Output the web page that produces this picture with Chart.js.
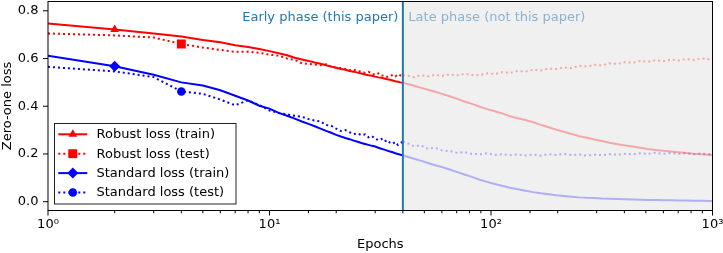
<!DOCTYPE html>
<html><head><meta charset="utf-8">
<script src="https://cdn.jsdelivr.net/npm/chart.js@4/dist/chart.umd.min.js"></script>
<style>html,body{margin:0;padding:0;background:#fff}#wrap{width:723px;height:253px;position:relative}</style>
</head><body><div id="wrap"><canvas id="c" width="723" height="253"></canvas></div>
<script>
const epochs = [1,2,3,4,5,6,7,8,9,10,11,12,13,14,15,16,17,18,19,20,21,22,23,24,25,26,27,28,29,30,31,32,33,34,35,36,37,38,39,40,
  42,45,48,52,56,60,65,70,76,82,89,96,104,113,122,132,143,155,168,182,197,213,231,250,271,293,317,343,372,403,436,472,511,553,599,648,702,760,823,891,965,1000];
const robustTrain = [0.747,0.722,0.705,0.692,0.678,0.668,0.656,0.648,0.640,0.631,0.622,0.614,0.603,0.596,0.590,0.583,0.578,0.572,0.566,0.561,0.556,0.553,0.548,0.545,0.541,0.537,0.533,0.530,0.528,0.524,0.521,0.519,0.516,0.513,0.511,0.508,0.505,0.503,0.500,0.498,
  0.493,0.486,0.478,0.469,0.461,0.452,0.442,0.432,0.420,0.410,0.398,0.388,0.379,0.369,0.358,0.350,0.342,0.333,0.322,0.312,0.302,0.293,0.284,0.274,0.268,0.261,0.254,0.247,0.241,0.236,0.231,0.226,0.221,0.217,0.213,0.210,0.207,0.204,0.201,0.199,0.197,0.196];
const robustTest = [0.705,0.697,0.688,0.661,0.646,0.636,0.628,0.629,0.624,0.616,0.612,0.600,0.594,0.580,0.577,0.575,0.572,0.576,0.566,0.562,0.560,0.556,0.551,0.553,0.548,0.545,0.540,0.544,0.536,0.532,0.538,0.528,0.530,0.523,0.527,0.531,0.525,0.534,0.529,0.531,
  0.528,0.522,0.530,0.525,0.532,0.527,0.534,0.529,0.536,0.531,0.530,0.538,0.535,0.543,0.540,0.548,0.545,0.553,0.550,0.558,0.556,0.563,0.560,0.570,0.566,0.574,0.571,0.580,0.577,0.585,0.582,0.590,0.586,0.593,0.589,0.596,0.592,0.598,0.594,0.601,0.597,0.600];
const standardTrain = [0.612,0.568,0.532,0.500,0.487,0.467,0.444,0.424,0.402,0.390,0.372,0.360,0.348,0.336,0.326,0.316,0.306,0.297,0.289,0.280,0.273,0.267,0.262,0.256,0.251,0.246,0.242,0.238,0.234,0.231,0.226,0.222,0.218,0.214,0.210,0.207,0.203,0.200,0.197,0.194,
  0.188,0.180,0.172,0.162,0.153,0.145,0.135,0.125,0.114,0.104,0.092,0.083,0.074,0.066,0.058,0.052,0.046,0.040,0.035,0.031,0.027,0.024,0.021,0.018,0.016,0.015,0.013,0.012,0.011,0.010,0.009,0.008,0.007,0.007,0.006,0.006,0.005,0.005,0.004,0.004,0.003,0.003];
const standardTest = [0.565,0.546,0.522,0.462,0.452,0.428,0.404,0.425,0.405,0.382,0.372,0.366,0.360,0.356,0.346,0.340,0.336,0.321,0.318,0.306,0.296,0.300,0.291,0.284,0.286,0.279,0.282,0.270,0.275,0.264,0.258,0.263,0.252,0.258,0.247,0.243,0.250,0.238,0.245,0.252,
  0.245,0.232,0.236,0.222,0.226,0.215,0.212,0.205,0.208,0.200,0.199,0.203,0.196,0.199,0.195,0.198,0.194,0.197,0.193,0.199,0.196,0.200,0.195,0.198,0.193,0.197,0.195,0.199,0.196,0.201,0.198,0.203,0.200,0.205,0.201,0.204,0.200,0.203,0.199,0.202,0.198,0.200];
const seriesLabels = ['Robust loss (train)','Robust loss (test)','Standard loss (train)','Standard loss (test)'];
const yTicks = [0.0, 0.2, 0.4, 0.6, 0.8];
const xTickLabels = {1:'10\u2070', 10:'10\u00b9', 100:'10\u00b2', 1000:'10\u00b3'};
const phaseSplit = 40;
const phaseTexts = ['Early phase (this paper)', 'Late phase (not this paper)'];
const markerEpochs = [2, 4, 2, 4];

const FONT = 'DejaVu Sans';
const FS = 13;
Chart.defaults.font.family = FONT;
Chart.defaults.font.size = FS;
Chart.defaults.color = '#000';

const styles = [
  {color:'rgb(255,0,0)', light:'rgba(255,0,0,0.3)', dash:[], ps:'triangle', r:5},
  {color:'rgb(255,0,0)', light:'rgba(255,0,0,0.3)', dash:[2,3], ps:'rect', r:6.3},
  {color:'rgb(0,0,255)', light:'rgba(0,0,255,0.27)', dash:[], ps:'rectRot', r:5.5},
  {color:'rgb(0,0,255)', light:'rgba(0,0,255,0.27)', dash:[2,3], ps:'circle', r:4.3}
];
const allSeries = [robustTrain, robustTest, standardTrain, standardTest];

const datasets = allSeries.map((vals, i) => {
  const s = styles[i];
  return {
    label: seriesLabels[i],
    data: epochs.map((e, k) => ({x: e, y: vals[k]})),
    borderColor: s.color,
    borderWidth: 2,
    borderDash: s.dash,
    borderCapStyle: 'butt',
    tension: 0,
    fill: false,
    pointStyle: s.ps,
    pointRadius: epochs.map(e => e === markerEpochs[i] ? s.r : 0),
    pointBackgroundColor: s.color,
    pointBorderColor: s.color,
    pointBorderWidth: 0,
    segment: {
      borderColor: ctx => ctx.p0.parsed.x >= phaseSplit ? s.light : s.color
    }
  };
});

const L = 48, R = 712.5, T = 1.5, B = 210.5;
function zeroPad(s) { s.paddingTop = 0; s.paddingBottom = 0; s.paddingLeft = 0; s.paddingRight = 0; }

const decor = {
  id: 'decor',
  beforeDatasetsDraw(chart) {
    const {ctx, chartArea: a, scales: {x}} = chart;
    const px = x.getPixelForValue(phaseSplit);
    ctx.save();
    ctx.fillStyle = '#f0f0f0';
    ctx.fillRect(px, a.top, a.right - px, a.bottom - a.top);
    ctx.restore();
  },
  afterDatasetsDraw(chart) {
    const {ctx, chartArea: a, scales: {x, y}} = chart;
    const px = x.getPixelForValue(phaseSplit);
    ctx.save();
    ctx.strokeStyle = '#1f77b4';
    ctx.lineWidth = 2;
    ctx.beginPath(); ctx.moveTo(px, a.top); ctx.lineTo(px, a.bottom); ctx.stroke();
    ctx.font = FS + 'px "' + FONT + '"';
    ctx.textBaseline = 'alphabetic';
    ctx.fillStyle = '#1f77b4';
    ctx.textAlign = 'right';
    ctx.fillText(phaseTexts[0], px - 4.5, 20.7);
    ctx.fillStyle = 'rgba(31,119,180,0.5)';
    ctx.textAlign = 'left';
    ctx.fillText(phaseTexts[1], px + 5.5, 20.7);
    ctx.restore();
  },
  afterDraw(chart) {
    const {ctx, chartArea: a, scales: {x, y}} = chart;
    ctx.save();
    ctx.strokeStyle = '#000';
    ctx.lineWidth = 1;
    ctx.strokeRect(a.left, a.top, a.right - a.left, a.bottom - a.top);
    ctx.beginPath();
    yTicks.forEach(v => { const py = y.getPixelForValue(v); ctx.moveTo(a.left, py); ctx.lineTo(a.left - 5, py); });
    x.ticks.forEach(t => {
      const px = x.getPixelForValue(t.value);
      const lg = Math.log10(t.value);
      const major = Math.abs(lg - Math.round(lg)) < 1e-9;
      ctx.moveTo(px, a.bottom); ctx.lineTo(px, a.bottom + (major ? 5 : 2.8));
    });
    ctx.stroke();
    const bx = 54.5, by = 123.5, bw = 181.5, bh = 80.5;
    ctx.fillStyle = 'rgba(255,255,255,0.85)';
    ctx.fillRect(bx, by, bw, bh);
    ctx.strokeStyle = '#222';
    ctx.lineWidth = 1;
    ctx.strokeRect(bx, by, bw, bh);
    const rows = [134.3, 153.7, 173.1, 192.5];
    ctx.font = FS + 'px "' + FONT + '"';
    ctx.textBaseline = 'middle';
    ctx.textAlign = 'left';
    styles.forEach((s, i) => {
      const ry = rows[i];
      ctx.strokeStyle = s.color;
      ctx.lineWidth = 2;
      ctx.setLineDash(s.dash);
      ctx.beginPath(); ctx.moveTo(58.3, ry); ctx.lineTo(87.3, ry); ctx.stroke();
      ctx.setLineDash([]);
      ctx.fillStyle = s.color;
      Chart.helpers.drawPoint(ctx, {pointStyle: s.ps, radius: s.r, rotation: 0, borderWidth: 0}, 72.8, ry);
      ctx.fillStyle = '#000';
      ctx.fillText(seriesLabels[i], 96.5, ry + 0.5);
    });
    ctx.restore();
  }
};

new Chart(document.getElementById('c'), {
  type: 'line',
  data: {datasets},
  options: {
    responsive: false,
    animation: false,
    events: [],
    layout: {padding: {top: T, right: 723 - R, left: 0, bottom: 0}},
    plugins: {legend: {display: false}, tooltip: {enabled: false}},
    scales: {
      x: {
        type: 'logarithmic', min: 1, max: 1000,
        afterFit: s => { s.height = 253 - B; zeroPad(s); },
        grid: {display: false, drawTicks: false},
        border: {display: false},
        ticks: {
          autoSkip: false, maxRotation: 0, padding: 6.5,
          callback: v => xTickLabels[v] || ''
        },
        title: {display: true, text: 'Epochs', padding: {top: 0, bottom: 0.5}}
      },
      y: {
        type: 'linear', min: -0.037, max: 0.839,
        afterFit: s => { s.width = L; zeroPad(s); },
        afterBuildTicks: s => { s.ticks = yTicks.map(v => ({value: v})); },
        grid: {display: false, drawTicks: false},
        border: {display: false},
        ticks: {padding: 9.5, callback: v => v.toFixed(1)},
        title: {display: true, text: 'Zero-one loss', padding: {top: 0, bottom: 0}}
      }
    }
  },
  plugins: [decor]
});
</script></body></html>
